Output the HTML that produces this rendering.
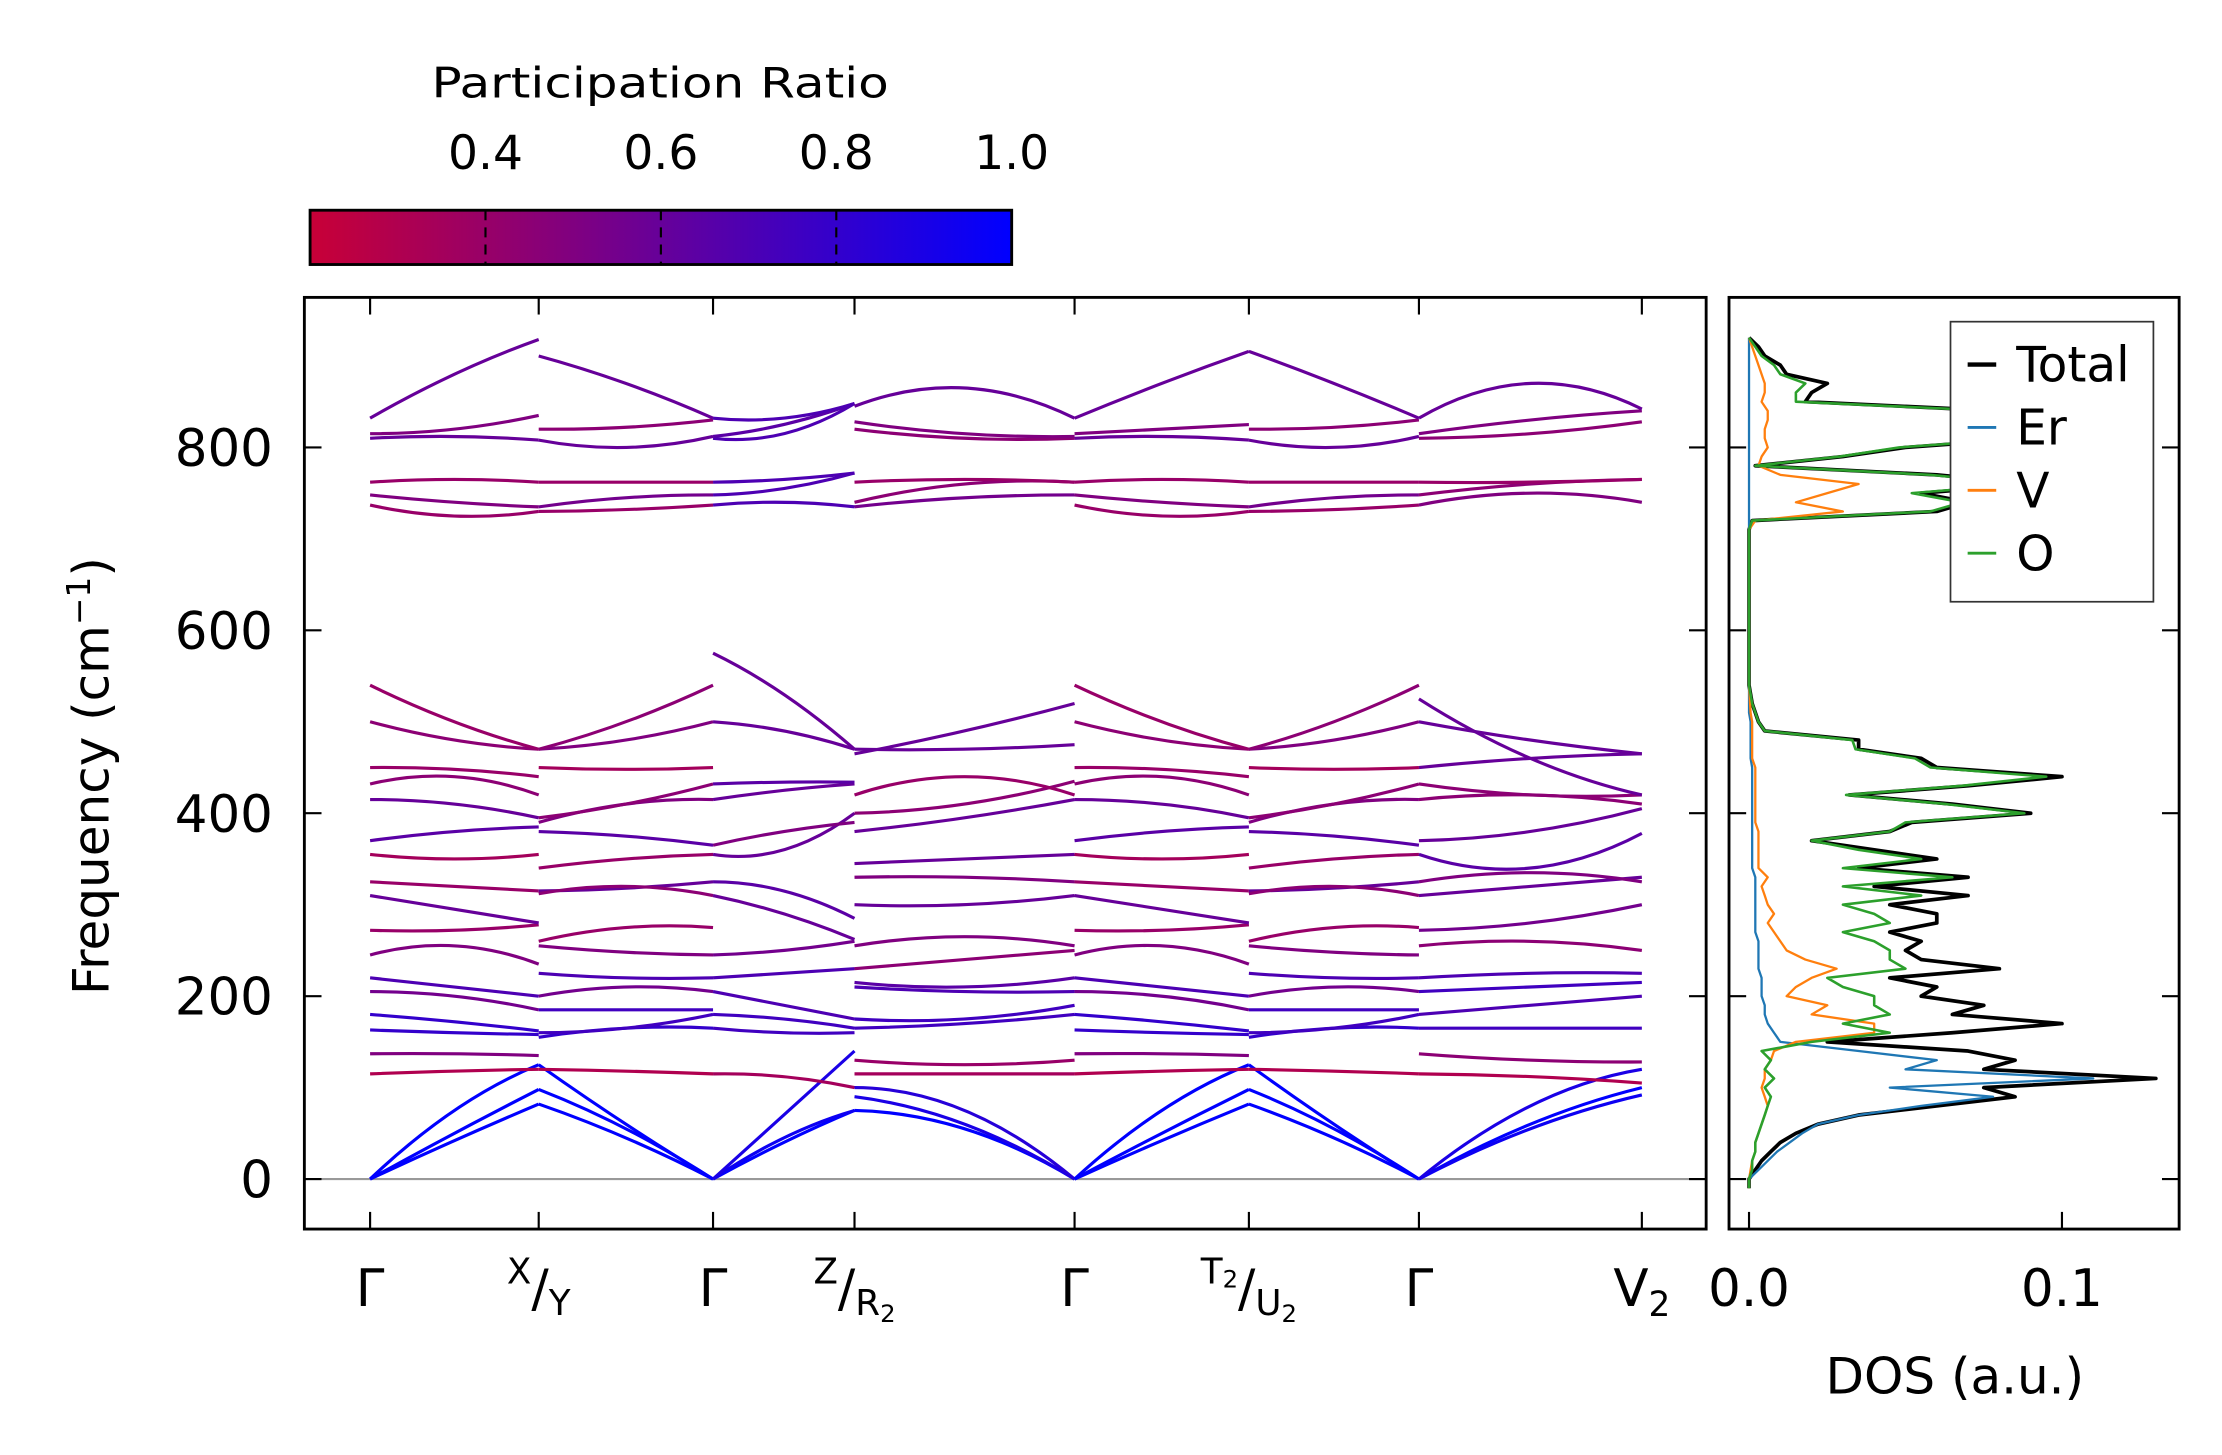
<!DOCTYPE html>
<html><head><meta charset="utf-8">
<style>
html,body{margin:0;padding:0;background:#fff;}
svg{display:block;}
text{font-family:"DejaVu Sans","Liberation Sans",sans-serif;fill:#000;}
</style></head>
<body>
<svg id="fig" width="2222" height="1455" viewBox="0 0 1555 1018" xmlns="http://www.w3.org/2000/svg">
  <defs>
    <linearGradient id="cmap" x1="0" x2="1" y1="0" y2="0">
      <stop offset="0" stop-color="rgb(200,0,55)"/>
      <stop offset="0.375" stop-color="rgb(128,0,128)"/>
      <stop offset="1" stop-color="rgb(0,0,255)"/>
    </linearGradient>
    <clipPath id="mainclip"><rect x="213" y="208" width="981" height="652"/></clipPath>
    <clipPath id="dosclip"><rect x="1210" y="208" width="315" height="652"/></clipPath>
  </defs>
  <g id="colorbar">
    <text x="462" y="68" font-size="29" text-anchor="middle" textLength="320" lengthAdjust="spacingAndGlyphs">Participation Ratio</text>
    <rect x="217" y="147" width="491" height="38" fill="url(#cmap)" stroke="#000" stroke-width="2"/>
    <g id="cbticks"></g>
  </g>
  <g id="main">
    <line x1="213" x2="1194" y1="825" y2="825" stroke="#999" stroke-width="1.5"/>
    <g id="bands" clip-path="url(#mainclip)"></g>
    <g id="mainticks"></g>
    <rect x="213" y="208" width="981" height="652" fill="none" stroke="#000" stroke-width="2"/>
    <text transform="translate(76,543) rotate(-90)" font-size="35" text-anchor="middle">Frequency (cm<tspan dy="-13" font-size="23">−1</tspan><tspan dy="13">)</tspan></text>
  </g>
  <g id="dos">
    <g id="doslines" clip-path="url(#dosclip)"></g>
    <g id="dosticks"></g>
    <rect x="1210" y="208" width="315" height="652" fill="none" stroke="#000" stroke-width="2"/>
    <text x="1368" y="975" font-size="35" text-anchor="middle">DOS (a.u.)</text>
    <g>
      <rect x="1365" y="225" width="142" height="196" fill="#fff" stroke="#333" stroke-width="1.2"/>
      <line x1="1377" x2="1397" y1="255" y2="255" stroke="#000" stroke-width="3"/>
      <text x="1411" y="267" font-size="34">Total</text>
      <line x1="1377" x2="1397" y1="299" y2="299" stroke="#1f77b4" stroke-width="2"/>
      <text x="1411" y="311" font-size="34">Er</text>
      <line x1="1377" x2="1397" y1="343" y2="343" stroke="#ff7f0e" stroke-width="2"/>
      <text x="1411" y="355" font-size="34">V</text>
      <line x1="1377" x2="1397" y1="387" y2="387" stroke="#2ca02c" stroke-width="2"/>
      <text x="1411" y="399" font-size="34">O</text>
    </g>
  </g>
</svg>
<script>
const yTicks=[0,200,400,600,800];
const cbTicks=[0.4,0.6,0.8,1.0];
const kLabels=["Γ","X/Y","Γ","Z/R2","Γ","T2/U2","Γ","V2"];
const kPos=[0,1,2,3,4,5,6,7];
const dosTicks=[0.0,0.1];
// bands per segment: [start, mid, end, participation ratio]
const seg1=[[0,50,98,1],[0,42,82,1],[0,75,125,1],[115,118,120,0.3],[137,137,135,0.5],[163,160,158,0.8],[180,172,162,0.8],[205,200,185,0.55],[220,210,200,0.7],[245,255,235,0.5],[272,272,278,0.4],[310,295,280,0.6],[325,320,315,0.4],[355,350,355,0.35],[370,380,385,0.65],[415,410,395,0.6],[432,440,420,0.45],[450,448,440,0.4],[500,480,470,0.45],[540,500,470,0.4],[737,725,730,0.4],[748,740,735,0.5],[762,765,762,0.4],[810,812,808,0.6],[815,820,835,0.5],[832,880,918,0.6]];
const seg2=[[125,60,0,1],[98,55,0,1],[82,45,0,1],[120,118,115,0.3],[155,165,165,0.8],[160,165,180,0.75],[185,185,185,0.75],[200,210,205,0.55],[225,220,220,0.7],[255,248,245,0.5],[260,275,275,0.4],[315,318,325,0.6],[312,320,310,0.45],[340,350,355,0.4],[380,375,365,0.65],[390,410,415,0.5],[395,410,432,0.45],[450,448,450,0.35],[470,480,500,0.5],[470,500,540,0.45],[730,732,737,0.4],[735,745,748,0.55],[762,762,762,0.4],[808,800,812,0.6],[820,822,830,0.45],[900,870,832,0.6]];
const seg3=[[0,40,75,1],[0,45,75,0.95],[0,70,140,0.9],[115,112,100,0.35],[165,160,160,0.75],[180,175,165,0.75],[205,190,175,0.7],[220,225,230,0.7],[245,250,260,0.55],[310,290,262,0.6],[325,315,285,0.65],[355,360,400,0.6],[365,380,390,0.5],[415,425,432,0.6],[432,434,434,0.65],[500,490,470,0.6],[575,530,470,0.6],[737,740,735,0.7],[748,755,772,0.7],[762,765,772,0.7],[810,815,848,0.7],[812,825,848,0.65],[832,832,848,0.7]];
const seg4=[[75,55,0,1],[90,60,0,0.9],[100,75,0,0.85],[115,115,115,0.35],[130,125,130,0.4],[165,170,180,0.75],[175,175,190,0.75],[210,205,205,0.7],[215,210,220,0.65],[230,240,250,0.45],[255,265,255,0.5],[300,300,310,0.6],[330,330,325,0.5],[345,350,355,0.6],[380,395,415,0.6],[400,410,435,0.45],[420,440,420,0.4],[470,470,475,0.6],[465,490,520,0.6],[735,745,748,0.55],[740,760,762,0.45],[762,765,762,0.4],[820,810,810,0.45],[828,815,812,0.5],[845,865,832,0.6]];
const seg5=[[0,50,98,1],[0,42,82,1],[0,75,125,1],[115,118,120,0.3],[137,137,135,0.5],[163,160,158,0.8],[180,172,162,0.8],[205,200,185,0.55],[220,210,200,0.7],[245,255,235,0.5],[272,272,278,0.4],[310,295,280,0.6],[325,320,315,0.4],[355,350,355,0.35],[370,380,385,0.65],[415,410,395,0.6],[432,440,420,0.45],[450,448,440,0.4],[500,480,470,0.45],[540,500,470,0.4],[737,725,730,0.4],[748,740,735,0.5],[762,765,762,0.4],[810,812,808,0.6],[815,820,825,0.5],[832,870,905,0.6]];
const seg6=[[125,60,0,1],[98,55,0,1],[82,45,0,1],[120,118,115,0.3],[155,165,165,0.8],[160,165,180,0.75],[185,185,185,0.75],[200,210,205,0.55],[225,220,220,0.7],[255,248,245,0.5],[260,275,275,0.4],[315,318,325,0.6],[312,320,310,0.45],[340,350,355,0.4],[380,375,365,0.65],[390,410,415,0.5],[395,410,432,0.45],[450,448,450,0.35],[470,480,500,0.5],[470,500,540,0.45],[730,732,737,0.4],[735,745,748,0.55],[762,762,762,0.4],[808,800,812,0.6],[820,822,830,0.45],[905,870,832,0.6]];
const seg7=[[0,60,100,1],[0,55,92,0.95],[0,80,120,0.9],[115,112,105,0.3],[137,130,128,0.45],[165,165,165,0.75],[180,190,200,0.7],[205,210,215,0.75],[220,225,225,0.7],[255,260,250,0.45],[272,280,300,0.55],[310,320,330,0.6],[325,335,325,0.5],[355,340,378,0.65],[370,380,405,0.6],[415,420,410,0.45],[432,420,420,0.45],[450,460,465,0.6],[500,480,465,0.6],[525,460,420,0.6],[737,750,740,0.5],[748,760,765,0.45],[762,762,765,0.4],[810,815,828,0.45],[815,830,840,0.5],[832,870,842,0.6]];
const segments=[seg1,seg2,seg3,seg4,seg5,seg6,seg7];
// DOS on 10 cm^-1 grid starting at 0 (values x1e-3 a.u.)
const dosTotal=[0,2,4,7,10,15,22,35,60,85,75,130,75,85,70,25,65,100,65,75,55,60,45,80,55,50,55,45,60,60,45,70,40,70,35,60,40,20,45,52,90,65,32,70,100,60,55,35,35,5,3,2,1,0.5,0,0,0,0,0,0,0,0,0,0,0,0,0,0,0,0,0,0,1,60,70,55,90,60,2,30,50,90,80,85,80,18,20,25,12,10,5,3,0];
const dosO=[0,1,1,2,2,3,4,5,6,7,5,8,5,7,4,20,45,30,45,40,40,30,25,50,45,45,40,30,45,40,30,55,30,65,30,55,35,20,45,50,88,63,31,68,95,58,53,34,33,5,3,2,1,0.5,0,0,0,0,0,0,0,0,0,0,0,0,0,0,0,0,0,0,1,58,68,52,88,58,2,29,48,88,78,83,78,15,15,18,10,8,4,2,0];
const dosV=[0,0.5,1,2,2,3,4,5,6,5,4,5,5,7,8,15,40,40,20,25,12,15,20,28,18,12,10,8,6,8,6,5,4,6,3,3,3,3,3,2,2,2,2,2,2,2,1,1,1,1,1,0.5,0.3,0.2,0,0,0,0,0,0,0,0,0,0,0,0,0,0,0,0,0,0,2,30,15,25,35,10,3,4,6,5,5,6,6,4,5,5,4,3,2,1,0];
const dosEr=[0,3,6,9,13,17,22,35,55,78,45,110,50,60,35,10,8,6,5,5,4,4,4,3,3,3,3,2,2,2,2,2,2,2,1,1,1,1,1,1,1,1,1,1,1,1,0.5,0.5,0.5,0.5,0.5,0,0,0,0,0,0,0,0,0,0,0,0,0,0,0,0,0,0,0,0,0,0,0,0,0,0,0,0,0,0,0,0,0,0,0,0,0,0,0,0,0,0];

const NS="http://www.w3.org/2000/svg";
const kX=[259,377,499,598,752,874,993,1149];
const yOf=f=>825-f*0.64;
const xOfK=i=>kX[i];
const dosX=v=>1224+v*2190;
const cbX=v=>217+(v-0.2)*491/0.8;
function mk(tag,attrs,parent){const e=document.createElementNS(NS,tag);for(const k in attrs)e.setAttribute(k,attrs[k]);parent.appendChild(e);return e;}
function cmap(p){
  let t=Math.max(0,Math.min(1,(p-0.2)/0.8));
  let r,b;
  if(t<0.375){const s=t/0.375;r=200+(128-200)*s;b=55+(128-55)*s;}
  else{const s=(t-0.375)/0.625;r=128*(1-s);b=128+127*s;}
  return `rgb(${Math.round(r)},0,${Math.round(b)})`;
}
const cbt=document.getElementById('cbticks');
cbTicks.forEach(v=>{
  const x=cbX(v);
  if(v<1){const l=mk('line',{x1:x,x2:x,y1:147,y2:185,stroke:'#000','stroke-width':1.5,'stroke-dasharray':'7,5'},cbt);
  
  }
  const t=mk('text',{x:x,y:118,'font-size':33,'text-anchor':'middle'},cbt);t.textContent=v.toFixed(1);
  
  
});
const bg=document.getElementById('bands');
segments.forEach((seg,si)=>{
  const x0=xOfK(kPos[si]),x1=xOfK(kPos[si+1]);
  seg.forEach(b=>{
    const ya=yOf(b[0]),ym=yOf(b[1]),yb=yOf(b[2]);
    const xc=(x0+x1)/2,yc=2*ym-(ya+yb)/2;
    const p=mk('path',{d:`M${x0},${ya} Q${xc},${yc} ${x1},${yb}`,fill:'none',stroke:cmap(b[3]),'stroke-width':2.2},bg);
    
    
  });
});
const mt=document.getElementById('mainticks');
yTicks.forEach(v=>{
  const y=yOf(v);
  mk('line',{x1:213,x2:225,y1:y,y2:y,stroke:'#000','stroke-width':1.5},mt);
  mk('line',{x1:1182,x2:1194,y1:y,y2:y,stroke:'#000','stroke-width':1.5},mt);
  const t=mk('text',{x:191,y:y+13,'font-size':36,'text-anchor':'end'},mt);t.textContent=v;
  
  
});
kPos.forEach((k,i)=>{
  const x=xOfK(k);
  mk('line',{x1:x,x2:x,y1:208,y2:220,stroke:'#000','stroke-width':1.5},mt);
  mk('line',{x1:x,x2:x,y1:848,y2:860,stroke:'#000','stroke-width':1.5},mt);
  const lab=kLabels[i];
  const t=mk('text',{x:x,y:914,'font-size':36,'text-anchor':'middle'},mt);
  
  
  if(lab.includes('/')){
    const [a,b]=lab.split('/');
    const sup=a.replace('2',''),supS=a.includes('2');
    const bs=b.replace('2',''),bS=b.includes('2');
    t.innerHTML=`<tspan font-size="25" dy="-16">${sup}</tspan>${supS?'<tspan font-size="17" dy="3">2</tspan>':''}<tspan dy="${supS?13:16}">/</tspan><tspan font-size="25" dy="6">${bs}</tspan>${bS?'<tspan font-size="17" dy="5">2</tspan>':''}`;
  } else if(lab.endsWith('2')){
    t.innerHTML=`${lab[0]}<tspan font-size="24" dy="7">2</tspan>`;
  } else t.textContent=lab;
});
const dl=document.getElementById('doslines');
function dosPath(arr,color,w,name){
  let d='M'+dosX(0)+','+yOf(-10);
  arr.forEach((v,i)=>{d+=' L'+dosX(v/1000).toFixed(1)+','+yOf(i*10).toFixed(1);});
  const p=mk('path',{d:d,fill:'none',stroke:color,'stroke-width':w,'stroke-linejoin':'round'},dl);
  
  
}
dosPath(dosTotal,'#000',2.6,'dos-total-line');
dosPath(dosEr,'#1f77b4',1.6,'dos-er-line');
dosPath(dosV,'#ff7f0e',1.6,'dos-v-line');
dosPath(dosO,'#2ca02c',1.8,'dos-o-line');
const dt=document.getElementById('dosticks');
yTicks.forEach(v=>{
  const y=yOf(v);
  mk('line',{x1:1210,x2:1222,y1:y,y2:y,stroke:'#000','stroke-width':1.5},dt);
  mk('line',{x1:1513,x2:1525,y1:y,y2:y,stroke:'#000','stroke-width':1.5},dt);
});
dosTicks.forEach(v=>{
  const x=dosX(v);
  mk('line',{x1:x,x2:x,y1:848,y2:860,stroke:'#000','stroke-width':1.5},dt);
  const t=mk('text',{x:x,y:914,'font-size':36,'text-anchor':'middle'},dt);t.textContent=v.toFixed(1);
  
  
});
</script>
</body></html>
